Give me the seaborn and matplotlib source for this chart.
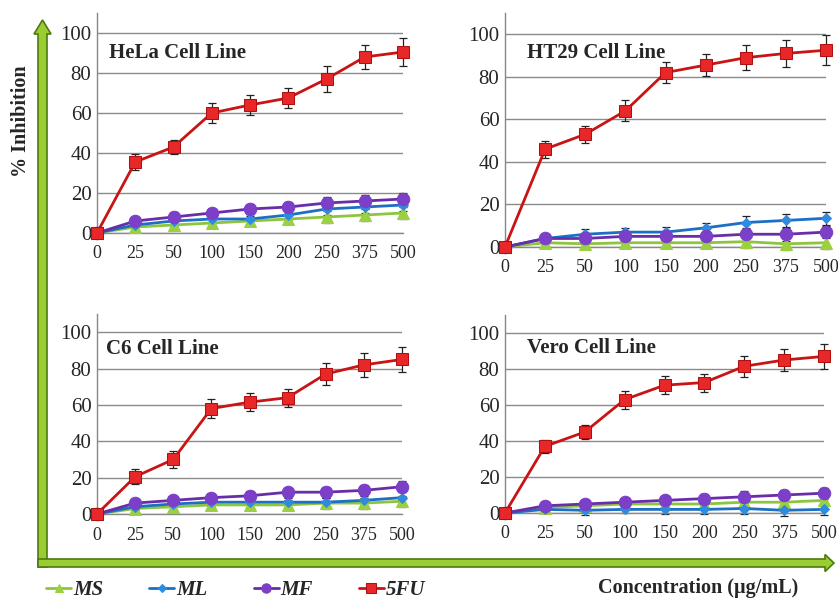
import numpy as np
import pandas as pd
import seaborn as sns
import matplotlib
import matplotlib.pyplot as plt
from matplotlib.patches import FancyArrow
from matplotlib.transforms import IdentityTransform

matplotlib.use('Agg')

# Concentrations (categorical x axis)
concentrations = ["0", "25", "50", "100", "150", "200", "250", "375", "500"]

series_names = ["MS", "ML", "MF", "5FU"]

# HeLa
hela_ms = [0, 3, 4, 5, 6, 7, 8, 9, 10]
hela_ml = [0, 4, 6, 7, 7, 9, 12, 13, 14]
hela_mf = [0, 6, 8, 10, 12, 13, 15, 16, 17]
hela_5fu = [0, 35.5, 43, 60, 64, 67.5, 77, 88, 90.5]
hela_5fu_err = [0, 4, 3.5, 5, 5, 5, 6.5, 6, 7]

# HT29
ht29_ms = [0, 2, 1.5, 2, 2, 2, 2.5, 1.5, 2]
ht29_ml = [0, 4, 6, 7, 7, 9, 11.5, 12.5, 13.5]
ht29_mf = [0, 4, 4, 5, 5, 5, 6, 6, 7]
ht29_5fu = [0, 46, 53, 64, 82, 85.5, 89, 91, 92.5]
ht29_5fu_err = [0, 4, 4, 5, 5, 5, 6, 6.5, 7]

# C6
c6_ms = [0, 3, 4, 5, 5, 5, 6, 6, 7]
c6_ml = [0, 4, 5.5, 6.5, 6.5, 6.5, 6.5, 7.5, 9]
c6_mf = [0, 6, 7.5, 9, 10, 12, 12, 13, 15]
c6_5fu = [0, 20.5, 30, 58, 61.5, 64, 77, 82, 85]
c6_5fu_err = [0, 4, 4.5, 5, 5, 5, 6, 6.5, 7]

# Vero
vero_ms = [0, 3, 4, 5, 5, 5, 6, 6, 7]
vero_ml = [0, 2, 1.5, 2, 2, 2, 2.5, 1.5, 2]
vero_mf = [0, 4, 5, 6, 7, 8, 9, 10, 11]
vero_5fu = [0, 37, 45, 63, 71, 72.5, 81.5, 85, 87]
vero_5fu_err = [0, 3.5, 4, 5, 5, 5, 6, 6, 7]

# small error bars on the extract series
low_err = [0, 2, 2.5, 2, 2.5, 2.5, 3, 3, 3]

panels = [
    ("HeLa Cell Line", [hela_ms, hela_ml, hela_mf, hela_5fu], hela_5fu_err),
    ("HT29 Cell Line", [ht29_ms, ht29_ml, ht29_mf, ht29_5fu], ht29_5fu_err),
    ("C6 Cell Line", [c6_ms, c6_ml, c6_mf, c6_5fu], c6_5fu_err),
    ("Vero Cell Line", [vero_ms, vero_ml, vero_mf, vero_5fu], vero_5fu_err),
]

# axes boxes in pixels: left, right, top, bottom
boxes = [(97, 403, 13, 233), (505, 826, 13, 247), (97, 402, 314, 514), (505, 824, 315, 513)]
title_pos = [(0.04, 0.82), (0.07, 0.83), (0.03, 0.825), (0.07, 0.833)]

styles = {
    "MS": dict(color="#8CC63F", marker="^", markersize=8, mfc="#9BD040", mec="#9BD040"),
    "ML": dict(color="#1C6FC4", marker="D", markersize=5.5, mfc="#2E8BE0", mec="#2E8BE0"),
    "MF": dict(color="#6A2DA8", marker="o", markersize=9, mfc="#7B3FC8", mec="#7B3FC8"),
    "5FU": dict(color="#C81414", marker="s", markersize=9, mfc="#E82828", mec="#B01010"),
}

sns.set_style("white")
plt.rcParams['font.family'] = ['Liberation Serif', 'DejaVu Serif']

W, H = 838, 601
fig = plt.figure(figsize=(W / 100, H / 100), dpi=100)

# big green arrows (axes decoration)
vert = FancyArrow(42.5, H - 567, 0, (H - 20) - (H - 567), width=9, head_width=17,
                  head_length=14, length_includes_head=True, transform=IdentityTransform(),
                  facecolor="#9ACD32", edgecolor="#4E7A10", lw=1.2, zorder=0)
horiz = FancyArrow(38, H - 563, 834 - 38, 0, width=8, head_width=17, head_length=9,
                   length_includes_head=True, transform=IdentityTransform(),
                   facecolor="#9ACD32", edgecolor="#4E7A10", lw=1.2, zorder=0)
fig.patches.extend([vert, horiz])

pos = np.arange(len(concentrations))
handles = []
for i, (title, vals, err5) in enumerate(panels):
    l, r, t, b = boxes[i]
    ax = fig.add_axes([l / W, (H - b) / H, (r - l) / W, (b - t) / H])
    ax.set_facecolor("none")
    for name, v in zip(series_names, vals):
        st = styles[name]
        e = err5 if name == "5FU" else low_err
        ax.errorbar(pos, v, yerr=e, fmt="none", ecolor="#222222", elinewidth=0.9,
                    capsize=3, capthick=0.9, zorder=2, clip_on=False)
        sns.lineplot(x=pos, y=v, ax=ax, color=st["color"], marker=st["marker"],
                     markersize=st["markersize"], markerfacecolor=st["mfc"],
                     markeredgecolor=st["mec"], linewidth=2, label=name,
                     clip_on=False, zorder=3, legend=False)
    ax.set_xlim(0, 8)
    ax.set_ylim(0, 110)
    ax.set_yticks(range(0, 101, 20))
    ax.set_xticks(pos)
    ax.set_xticklabels(concentrations, fontsize=13)
    ax.tick_params(axis="y", labelsize=15, length=0, pad=4)
    ax.tick_params(axis="x", length=5, width=1, color="#888888", direction="out", pad=4)
    ax.yaxis.grid(True, color="#8a8a8a", linewidth=1)
    ax.xaxis.grid(False)
    for s in ["top", "right"]:
        ax.spines[s].set_visible(False)
    for s in ["left", "bottom"]:
        ax.spines[s].set_color("#888888")
        ax.spines[s].set_linewidth(1)
    ax.set_xlabel("")
    ax.set_ylabel("")
    ax.text(title_pos[i][0], title_pos[i][1], title, transform=ax.transAxes,
            fontsize=15, fontweight="bold", va="center", ha="left")
    if i == 0:
        handles = ax.get_lines()

leg_handles = [h for h in handles if h.get_label() in series_names]
fig.legend(leg_handles, series_names, loc="center left", bbox_to_anchor=(36 / W, 1 - 590 / H),
           ncol=4, frameon=False, handlelength=1.2, handletextpad=0.1, columnspacing=2.2,
           markerscale=0.75, borderpad=0,
           prop=dict(family="Liberation Serif", weight="bold", style="italic", size=15))

fig.text(698 / W, 1 - 588 / H, "Concentration (µg/mL)", fontsize=14.5, fontweight="bold",
         ha="center", va="center")
fig.text(21 / W, 1 - 121 / H, "% Inhibition", fontsize=14.5, fontweight="bold",
         rotation=90, ha="center", va="center")

fig.savefig("out.png", dpi=100)
plt.close(fig)
